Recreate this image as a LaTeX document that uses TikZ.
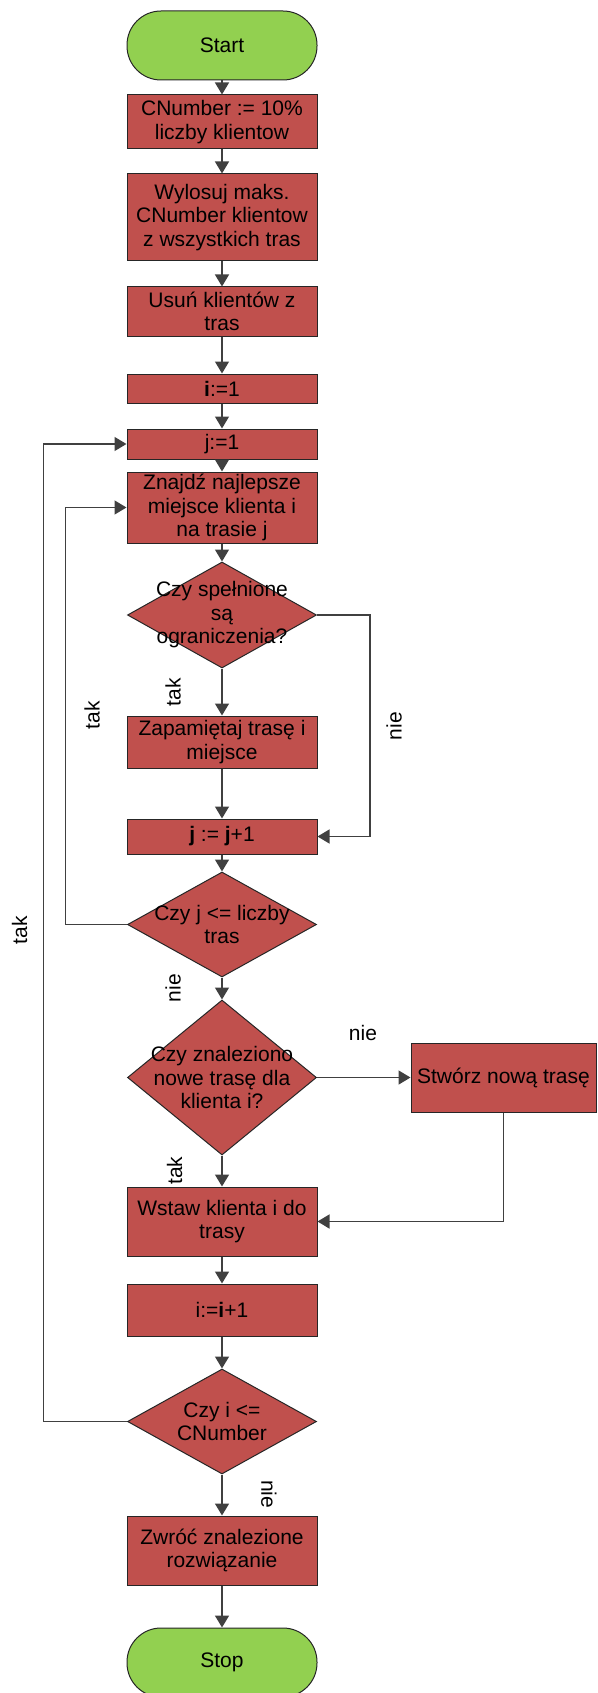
\documentclass[tikz,border=0pt]{standalone}
\usepackage{fontspec}
\setmainfont{Liberation Sans}
\usetikzlibrary{arrows.meta,shapes.geometric}
\definecolor{boxred}{HTML}{C0504D}
\definecolor{termgreen}{HTML}{92D050}
\definecolor{linegray}{HTML}{404040}

\begin{document}
\begin{tikzpicture}[x=1pt,y=-1pt,
  every node/.style={font=\fontsize{21}{23.5}\selectfont, align=center, inner sep=0pt},
  procbox/.style={rectangle, draw=black!85, line width=1pt, fill=boxred, minimum width=190pt},
  decbox/.style={diamond, draw=black!85, line width=1pt, fill=boxred, minimum width=189pt},
  term/.style={rectangle, draw=black!85, line width=1pt, fill=termgreen, minimum width=190pt, minimum height=69pt, rounded corners=34pt},
  flow/.style={draw=linegray, line width=1.5pt, -{Triangle[width=14pt,length=12pt]}},
  lbl/.style={text=black}
]
\useasboundingbox (0,0) rectangle (597,1693);

% terminals, steps and decisions
\node[term] (start) at (222,45.5) {Start};
\node[procbox, minimum height=54pt] (cnum) at (222,122) {CNumber := 10\%\\liczby klientow};
\node[procbox, minimum height=87pt] (draw) at (222,217.5) {Wylosuj maks.\\CNumber klientow\\z wszystkich tras};
\node[procbox, minimum height=49pt] (remove) at (222,311.5) {Usuń klientów z\\tras};
\node[procbox, minimum height=29pt] (iinit) at (222,388.5) {\textbf{i}:=1};
\node[procbox, minimum height=30pt] (jinit) at (222,444) {j:=1};
\node[procbox, minimum height=71pt] (find) at (222,507.5) {Znajdź najlepsze\\miejsce klienta i\\na trasie j};
\node[decbox, minimum height=106pt] (feas) at (222,615) {};
\node[lbl] (feastxt) at (feas) {Czy spełnione\\są\\ograniczenia?};
\node[procbox, minimum height=52pt] (remember) at (222,742) {Zapamiętaj trasę i\\miejsce};
\node[procbox, minimum height=35pt] (jinc) at (222,836.5) {\textbf{j} := \textbf{j}+1};
\node[decbox, minimum height=105pt] (jloop) at (222,924.5) {};
\node[lbl] (jlooptxt) at (jloop) {Czy j <= liczby\\tras};
\node[decbox, minimum height=155pt] (found) at (222,1077.5) {};
\node[lbl] (foundtxt) at (found) {Czy znaleziono\\nowe trasę dla\\klienta i?};
\node[procbox, minimum width=185pt, minimum height=69pt] (newroute) at (503.5,1077.5) {Stwórz nową trasę};
\node[procbox, minimum height=69pt] (insert) at (222,1221.5) {Wstaw klienta i do\\trasy};
\node[procbox, minimum height=52pt] (iinc) at (222,1310) {i:=\textbf{i}+1};
\node[decbox, minimum height=105pt] (iloop) at (222,1421.5) {};
\node[lbl] (ilooptxt) at (iloop) {Czy i <=\\CNumber};
\node[procbox, minimum height=69pt] (result) at (222,1550.5) {Zwróć znalezione\\rozwiązanie};
\node[term] (stop) at (222,1662.5) {Stop};

% main flow
\draw[flow] (start) -- (cnum);
\draw[flow] (cnum) -- (draw);
\draw[flow] (draw) -- (remove);
\draw[flow] (remove) -- (iinit);
\draw[flow] (iinit) -- (jinit);
\draw[flow] (jinit) -- (find);
\draw[flow] (find) -- (feas);
\draw[flow] (feas) -- (remember);
\draw[flow] (remember) -- (jinc);
\draw[flow] (jinc) -- (jloop);
\draw[flow] (jloop) -- (found);
\draw[flow] (found) -- (insert);
\draw[flow] (insert) -- (iinc);
\draw[flow] (iinc) -- (iloop);
\draw[flow] (iloop) -- (result);
\draw[flow] (result) -- (stop);

% branches and loops
\draw[flow] (feas.east) -- ++(53,0) |- (jinc.east);
\draw[flow] (jloop.west) -- ++(-61.5,0) |- (find.west);
\draw[flow] (iloop.west) -- ++(-83.5,0) |- (jinit.west);
\draw[flow] (found.east) -- (newroute.west);
\draw[flow] (newroute.south) |- (insert.east);

% branch labels
\node[lbl, rotate=90] (l1) at (173,692) {tak};
\node[lbl, rotate=90] (l2) at (394,726) {nie};
\node[lbl, rotate=90] (l3) at (92,715) {tak};
\node[lbl, rotate=90] (l4) at (19.5,930) {tak};
\node[lbl, rotate=90] (l5) at (173,988) {nie};
\node[lbl] (l6) at (363,1033) {nie};
\node[lbl, rotate=90] (l7) at (174.5,1170.5) {tak};
\node[lbl, rotate=-90] (l8) at (269,1494) {nie};
\end{tikzpicture}
\end{document}
